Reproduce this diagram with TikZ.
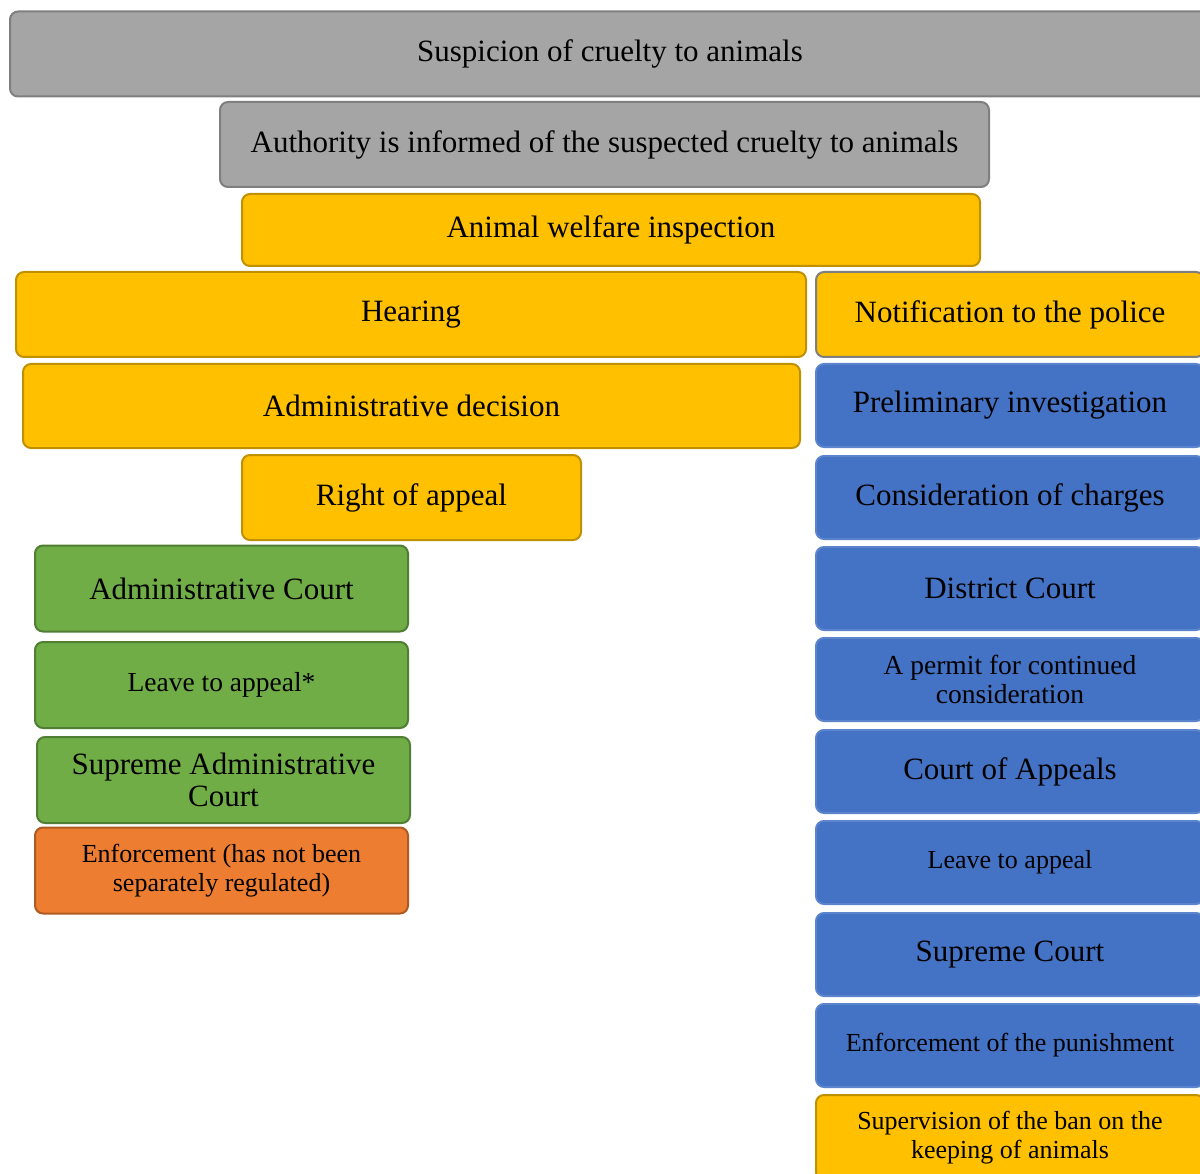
\documentclass[tikz,border=0pt]{standalone}
\usepackage{fontspec}
\setmainfont{Liberation Serif}
\definecolor{gfill}{HTML}{A5A5A5}
\definecolor{gline}{HTML}{7F7F7F}
\definecolor{ofill}{HTML}{FFC000}
\definecolor{oline}{HTML}{BF9000}
\definecolor{bfill}{HTML}{4472C4}
\definecolor{bline}{HTML}{5B84CC}
\definecolor{vfill}{HTML}{70AD47}
\definecolor{vline}{HTML}{507E32}
\definecolor{rfill}{HTML}{ED7D31}
\definecolor{rline}{HTML}{AE5A21}
\tikzset{
  box/.style={rectangle, rounded corners=8pt, line width=2pt, align=center, inner sep=0pt,
    font=\fontsize{31}{32}\selectfont, text=black},
  small/.style={font=\fontsize{26}{29}\selectfont},
  graybox/.style={box, fill=gfill, draw=gline},
  goldbox/.style={box, fill=ofill, draw=oline},
  bluebox/.style={box, fill=bfill, draw=bline, minimum width=388pt, minimum height=83pt},
  greenbox/.style={box, fill=vfill, draw=vline, minimum width=373pt, minimum height=86pt},
  orangebox/.style={box, fill=rfill, draw=rline, minimum width=373pt, minimum height=86pt},
}
\begin{document}
\begin{tikzpicture}[x=1pt,y=-1pt]
\useasboundingbox (0,0) rectangle (1200,1174);
\clip (0,0) rectangle (1200,1174);
\node[graybox, minimum width=1200pt, minimum height=85pt] (susp) at (610,54) {Suspicion of cruelty to animals};
\node[graybox, minimum width=769pt, minimum height=85pt] (auth) at (604.5,144.5) {Authority is informed of the suspected cruelty to animals};
\node[goldbox, minimum width=738pt, minimum height=72pt] (awi) at (611,230) {Animal welfare inspection};
\node[goldbox, minimum width=790pt, minimum height=85pt] (hear) at (411,314.5) {Hearing};
\node[goldbox, draw=gline, minimum width=388pt, minimum height=85pt] (notif) at (1010,314.5) {Notification to the police};
\node[goldbox, minimum width=777pt, minimum height=84pt] (admdec) at (411.5,406) {Administrative decision};
\node[goldbox, minimum width=339pt, minimum height=85pt] (right) at (411.5,497.5) {Right of appeal};
\node[bluebox] (prelim) at (1010,405.5) {Preliminary investigation};
\node[bluebox] (consid) at (1010,497.5) {Consideration of charges};
\node[bluebox] (district) at (1010,588.5) {District Court};
\node[bluebox, font=\fontsize{27.5}{29}\selectfont] (permit) at (1010,679.5) {A permit for continued\\consideration};
\node[bluebox] (appeals) at (1010,771.5) {Court of Appeals};
\node[bluebox, small] (leave) at (1010,862.5) {Leave to appeal};
\node[bluebox] (supreme) at (1010,954.5) {Supreme Court};
\node[bluebox, small] (enfpun) at (1010,1045.5) {Enforcement of the punishment};
\node[goldbox, small, minimum width=388pt, minimum height=85pt] (superv) at (1010,1137.5) {Supervision of the ban on the\\keeping of animals};
\node[greenbox] (admcourt) at (221.5,588.5) {Administrative Court};
\node[greenbox, font=\fontsize{27.5}{29}\selectfont] (leavestar) at (221.5,685) {Leave to appeal*};
\node[greenbox] (supadm) at (223.5,780) {Supreme Administrative\\Court};
\node[orangebox, small] (enfadm) at (221.5,870.5) {Enforcement (has not been\\separately regulated)};
\end{tikzpicture}
\end{document}
